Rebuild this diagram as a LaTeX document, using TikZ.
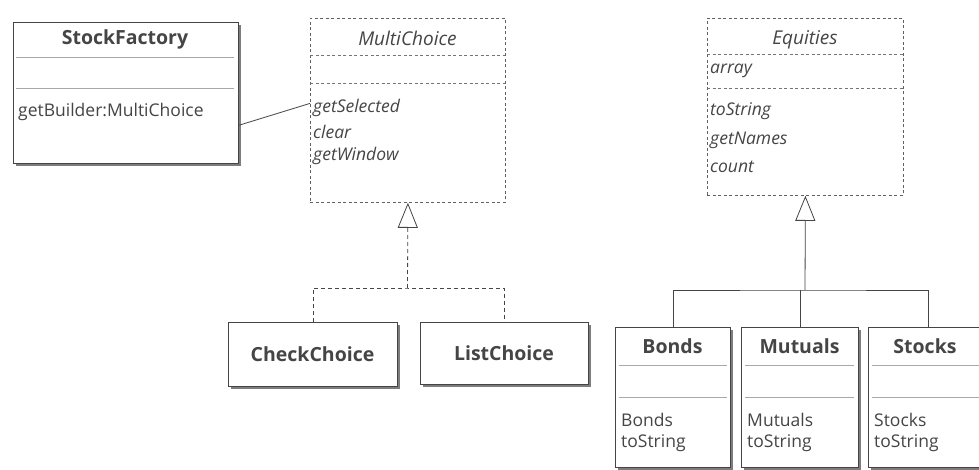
\documentclass[tikz,border=0pt]{standalone}
\usepackage{fontspec}
\setmainfont{Open Sans}
\usetikzlibrary{arrows.meta,shadows}
\definecolor{ink}{HTML}{454545}
\definecolor{rule}{HTML}{A8A8A8}
\begin{document}
\begin{tikzpicture}[x=1pt,y=-1pt,
  classbox/.style={draw=ink, line width=1.3pt, fill=white, inner sep=0pt, anchor=north west,
    drop shadow={shadow xshift=2.5pt, shadow yshift=-2.5pt, fill=ink!70, opacity=1}},
  abstractbox/.style={draw=ink!85, dash pattern=on 3pt off 2.5pt, line width=0.8pt, inner sep=0pt, anchor=north west},
  divider/.style={draw=rule, line width=0.8pt},
  idivider/.style={draw=ink!75, line width=0.8pt, dash pattern=on 3pt off 2.5pt},
  title/.style={font=\fontsize{19.5}{21}\selectfont\bfseries, text=ink, inner sep=0pt},
  ititle/.style={font=\fontsize{19}{21}\selectfont\itshape, text=ink, inner sep=0pt},
  member/.style={font=\fontsize{17.5}{19}\selectfont, text=ink, anchor=west, inner sep=0pt},
  imember/.style={member, font=\fontsize{17.5}{19}\selectfont\itshape},
  link/.style={draw=ink, line width=0.8pt},
  realizes/.style={link, dash pattern=on 4pt off 3pt},
  tip/.style={-{Triangle[open, length=25pt, width=20pt, line width=0.8pt]}}
]
\useasboundingbox[fill=white] (0,0) rectangle (979,470);

% ---- StockFactory ----
\node[classbox, minimum width=225pt, minimum height=141pt] (sf) at (13,22) {};
\node[title] (sft) at (125,39) {StockFactory};
\draw[divider] (16,57) -- (234,57);
\draw[divider] (16,88) -- (234,88);
\node[member] (sfm) at (18,112) {getBuilder:MultiChoice};

% ---- MultiChoice (abstract) ----
\node[abstractbox, minimum width=195pt, minimum height=184pt] (mc) at (310,18) {};
\node[ititle] (mct) at (407.5,38) {MultiChoice};
\draw[idivider] (310,55) -- (505,55);
\draw[idivider] (310,83) -- (505,83);
\node[imember] (mc1) at (313,108) {getSelected};
\node[imember] (mc2) at (313,132) {clear};
\node[imember] (mc3) at (313,156) {getWindow};

% ---- CheckChoice / ListChoice ----
\node[classbox, minimum width=169pt, minimum height=64pt] (cc) at (228,322) {};
\node[title] (cct) at (312.5,354) {CheckChoice};
\node[classbox, minimum width=168pt, minimum height=62pt] (lc) at (420,322) {};
\node[title] (lct) at (504,353) {ListChoice};

% ---- Equities (abstract) ----
\node[abstractbox, minimum width=196pt, minimum height=177pt] (eq) at (707,18) {};
\node[ititle] (eqt) at (805,40) {Equities};
\draw[idivider] (707,54) -- (903,54);
\draw[idivider] (707,88) -- (903,88);
\node[imember] (eqa) at (710,71) {array};
\node[imember] (eq1) at (710,111) {toString};
\node[imember] (eq2) at (710,140) {getNames};
\node[imember] (eq3) at (710,167) {count};

% ---- Bonds / Mutuals / Stocks ----
\node[classbox, minimum width=115pt, minimum height=140pt] (bd) at (615,327) {};
\node[title] (bdt) at (672.5,346) {Bonds};
\draw[divider] (619,365) -- (727,365);
\draw[divider] (619,397) -- (727,397);
\node[member] (bd1) at (621,420) {Bonds};
\node[member] (bd2) at (621,443) {toString};

\node[classbox, minimum width=117pt, minimum height=140pt] (mu) at (741,327) {};
\node[title] (mut) at (799.5,346) {Mutuals};
\draw[divider] (745,365) -- (854,365);
\draw[divider] (745,397) -- (854,397);
\node[member] (mu1) at (747,420) {Mutuals};
\node[member] (mu2) at (747,443) {toString};

\node[classbox, minimum width=120pt, minimum height=140pt] (st) at (868,327) {};
\node[title] (stt) at (925,346) {Stocks};
\draw[divider] (872,365) -- (985,365);
\draw[divider] (872,397) -- (985,397);
\node[member] (st1) at (874,420) {Stocks};
\node[member] (st2) at (874,443) {toString};

% ---- connectors ----
\draw[link] ([yshift=-32pt]sf.east) -- ([yshift=7pt]mc.west);

\coordinate (mj) at (407.5,288);
\draw[realizes] (cc.north) |- (mj) -| (lc.north);
\draw[realizes, tip] (mj) -- (mc.south);

\coordinate (ej) at (805,290);
\draw[link] (bd.north) |- (ej) -| (st.north);
\draw[link] (mu.north) -- (mu.north |- ej);
\draw[link, tip] (ej) -- (eq.south);
\end{tikzpicture}
\end{document}
